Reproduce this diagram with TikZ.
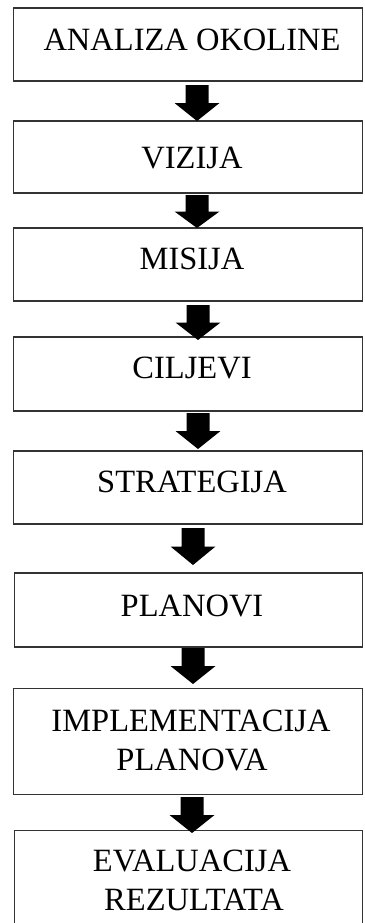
\documentclass[tikz,border=0pt]{standalone}
\usepackage{fontspec}
\setmainfont{Liberation Serif}
\usetikzlibrary{calc}
\begin{document}
\begin{tikzpicture}[x=1bp,y=-1bp,
  stagebox/.style={draw=black!80,line width=1.3bp,rectangle,inner sep=0pt,outer sep=0pt},
  stagetext/.style={anchor=base,inner sep=0pt,font=\fontsize{32.5bp}{36bp}\selectfont},
  arrowfill/.style={fill=black}]
\useasboundingbox (0,0) rectangle (364,923);
% boxes: left, top, right, bottom
\newcommand\stagebox[5]{\node[stagebox,minimum width={#4-#2},minimum height={#5-#3}] (#1) at ({(#2+#4)/2},{(#3+#5)/2}) {};}
\stagebox{b1}{13}{8}{363}{81}
\stagebox{b2}{13}{121}{363}{193}
\stagebox{b3}{13}{228}{363}{301}
\stagebox{b4}{13}{337}{363}{411}
\stagebox{b5}{13}{451}{363}{524}
\stagebox{b6}{14}{573}{363}{647}
\stagebox{b7}{13}{688}{363}{795}
\stagebox{b8}{14}{830}{363}{990}
% texts
\node[stagetext] (t1) at (192,50) {ANALIZA OKOLINE};
\node[stagetext] (t2) at (192,168) {VIZIJA};
\node[stagetext] (t3) at (192,269) {MISIJA};
\node[stagetext] (t4) at (192,378) {CILJEVI};
\node[stagetext] (t5) at (192,492) {STRATEGIJA};
\node[stagetext] (t6) at (192,616) {PLANOVI};
\node[stagetext] (t7a) at (191,731) {IMPLEMENTACIJA};
\node[stagetext] (t7b) at (192,770) {PLANOVA};
\node[stagetext] (t8a) at (192,871) {EVALUACIJA};
\node[stagetext] (t8b) at (194,910) {REZULTATA};
% block arrows: name, x, top, tip
\newcommand\blockarr[4]{%
  \coordinate (#1s) at (#2,#3);
  \coordinate (#1e) at (#2,#4);
  \fill[arrowfill] ($(#1s)+(-11.5,0)$) -- ($(#1s)+(11.5,0)$)
    -- ({#2+11.5},{(#3+#4)/2}) -- ({#2+22.5},{(#3+#4)/2})
    -- (#1e) -- ({#2-22.5},{(#3+#4)/2}) -- ({#2-11.5},{(#3+#4)/2}) -- cycle;}
\blockarr{a1}{197}{85}{121}
\blockarr{a2}{197}{195}{228}
\blockarr{a3}{198}{305}{340}
\blockarr{a4}{198}{413}{449}
\blockarr{a5}{193}{528}{565}
\blockarr{a6}{193}{648}{684}
\blockarr{a7}{192}{797}{833}
\end{tikzpicture}
\end{document}
